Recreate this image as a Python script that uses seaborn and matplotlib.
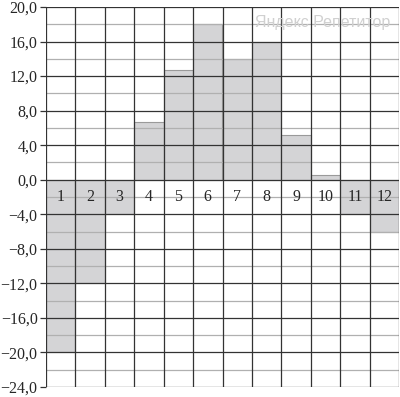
import matplotlib
matplotlib.use("Agg")
import matplotlib.pyplot as plt
import seaborn as sns
import pandas as pd
import numpy as np

months = ["1", "2", "3", "4", "5", "6", "7", "8", "9", "10", "11", "12"]
values = [-20.0, -12.0, -4.0, 6.7, 12.7, 18.0, 14.0, 16.0, 5.2, 0.6, -4.0, -6.0]
yticks = [20, 16, 12, 8, 4, 0, -4, -8, -12, -16, -20, -24]

sns.set_style("white")
plt.rcParams['font.family'] = ['Liberation Serif', 'DejaVu Serif']

df = pd.DataFrame({"month": months, "value": values})

fig = plt.figure(figsize=(4.0, 3.97), dpi=100)
ax = fig.add_axes([46/400, 10/397, 353/400, 380/397])

sns.barplot(data=df, x="month", y="value", order=months, width=1.0,
            color="#d4d4d6", edgecolor="#9a9a9a", linewidth=0.8,
            saturation=1, ax=ax, zorder=1)

ax.set_xlim(-0.5, 11.5)
ax.set_ylim(-24, 20)

# grid
for y in np.arange(-24, 21, 2):
    if y % 4 == 0:
        ax.axhline(y, color="#333333", lw=0.9, zorder=2)
    else:
        ax.axhline(y, color="#b0b0b0", lw=0.9, zorder=2)
for x in np.arange(-0.5, 12, 1):
    ax.axvline(x, color="#333333", lw=0.9, zorder=2)

ax.set_yticks(yticks)
ax.set_yticklabels([f"{t:.1f}".replace(".", ",").replace("-", "\u2212") for t in yticks],
                   fontsize=11.5)
ax.tick_params(axis="y", length=4, width=0.9, color="#333333", pad=2, left=True)
ax.set_xticks([])
ax.set_xlabel("")
ax.set_ylabel("")

for i, m in enumerate(months):
    ax.text(i, -2, m, ha="center", va="center", fontsize=11.5, zorder=3)

for s in ax.spines.values():
    s.set_visible(False)

ax.text(0.785, 0.96, "Яндекс Репетитор", transform=ax.transAxes,
        ha="center", va="center", fontsize=11.5, color="#d0d0d0",
        family=["Liberation Sans Narrow", "Liberation Sans", "DejaVu Sans"], zorder=4)

fig.savefig("out.png", dpi=100)
